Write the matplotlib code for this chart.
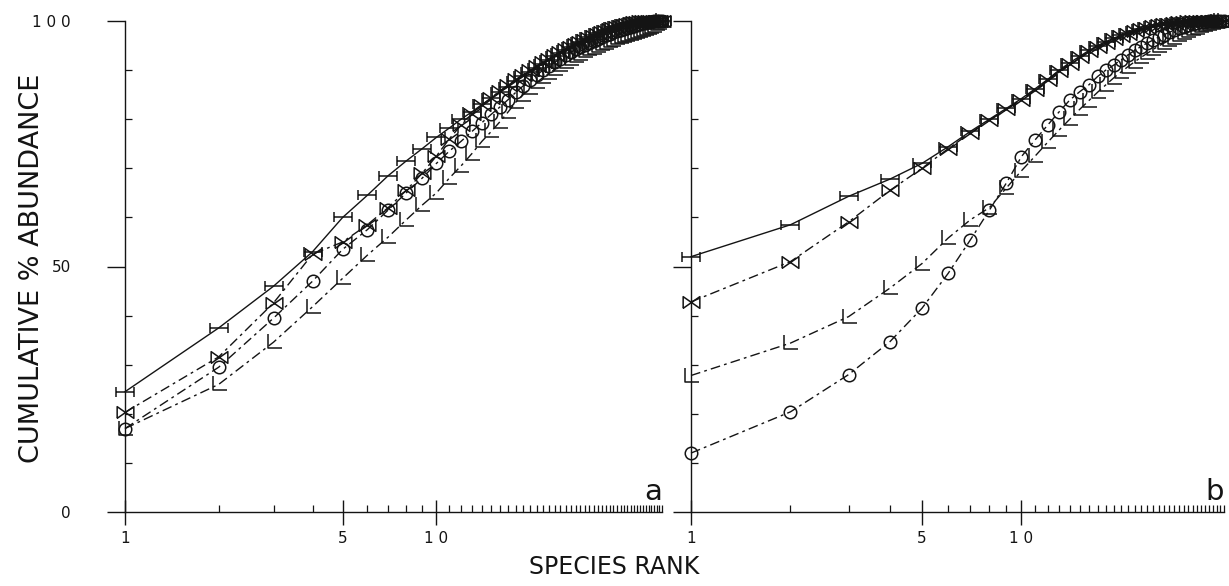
import matplotlib
matplotlib.use("Agg")
import matplotlib.pyplot as plt
from matplotlib.path import Path
from matplotlib.ticker import FixedLocator, NullFormatter

# ---------------- data ----------------
ranks_a = list(range(1, 54))
h_a = [24.5, 37.5, 46, 53, 60, 64.5, 68.5, 71.5, 74, 76.3, 78.2, 80, 81.5, 83, 84.3,
       85.5, 86.6, 87.7, 88.7, 89.6, 90.5, 91.3, 92.1, 92.8, 93.5, 94.1, 94.7, 95.3,
       95.8, 96.3, 96.7, 97.1, 97.5, 97.8, 98.1, 98.4, 98.7, 98.9, 99.1, 99.3, 99.45,
       99.6, 99.7, 99.8, 99.85, 99.9, 99.93, 99.95, 99.97, 99.98, 99.99, 100, 100]
m_a = [20.3, 31.6, 42.6, 52.5, 55, 58.5, 62, 65.5, 69, 72.5, 76, 78.8, 81, 82.8, 84.4,
       85.8, 87, 88.1, 89.1, 90, 90.8, 91.6, 92.3, 93, 93.6, 94.2, 94.8, 95.3, 95.8,
       96.2, 96.6, 97, 97.4, 97.7, 98, 98.3, 98.6, 98.8, 99, 99.2, 99.4, 99.55, 99.7,
       99.8, 99.9, 100, 100, 100, 100, 100, 100, 100, 100]
o_a = [17, 29.5, 39.5, 47, 53.5, 57.5, 61.5, 65, 68, 71, 73.5, 75.5, 77.5, 79.3, 81,
       82.5, 84, 85.5, 86.8, 88, 89, 90, 90.8, 91.6, 92.3, 93, 93.6, 94.2, 94.7, 95.2,
       95.6, 96, 96.4, 96.8, 97.1, 97.4, 97.7, 98, 98.2, 98.4, 98.6, 98.8, 99, 99.2,
       99.35, 99.5, 99.6, 99.7, 99.8, 99.9, 100, 100, 100]
l_a = [17, 26, 34.6, 41.8, 47.6, 52.3, 56, 59.5, 62.5, 65, 68, 70.5, 73, 75.5, 77.5,
       79.5, 81.5, 83.5, 85, 86.3, 87.5, 88.5, 89.4, 90.2, 91, 91.6, 92.2, 92.8, 93.3,
       93.8, 94.2, 94.6, 95, 95.3, 95.6, 95.9, 96.2, 96.5, 96.7, 97, 97.2, 97.4, 97.6,
       97.8, 98, 98.2, 98.4, 98.6, 98.8, 99, 99.3, 99.6, 100]

ranks_b = list(range(1, 42))
h_b = [52, 58.5, 64.3, 67.8, 71, 74.4, 77.5, 80, 82.2, 84.2, 86.2, 88.1, 90, 91.5,
       92.8, 94, 95, 95.8, 96.5, 97.1, 97.6, 98, 98.4, 98.7, 99, 99.2, 99.4, 99.5,
       99.6, 99.7, 99.8, 99.85, 99.9, 99.95, 100, 100, 100, 100, 100, 100, 100]
m_b = [42.8, 51, 59.1, 65.5, 70, 74, 77.2, 79.8, 82, 84, 86, 88, 89.8, 91.3, 92.6,
       93.8, 94.8, 95.6, 96.3, 96.9, 97.4, 97.9, 98.3, 98.6, 98.9, 99.1, 99.3, 99.45,
       99.6, 99.7, 99.8, 99.9, 100, 100, 100, 100, 100, 100, 100, 100, 100]
l_b = [27.8, 34.4, 39.8, 45.6, 50.6, 55.8, 59.5, 62, 66, 69.5, 72.5, 75.3, 77.8, 80,
       82, 83.8, 85.5, 87, 88.4, 89.6, 90.7, 91.7, 92.6, 93.4, 94.2, 94.9, 95.5, 96.1,
       96.6, 97.1, 97.5, 97.9, 98.3, 98.6, 98.9, 99.2, 99.4, 99.6, 99.8, 99.9, 100]
o_b = [12, 20.4, 28, 34.7, 41.5, 48.6, 55.4, 61.5, 67, 72.4, 75.8, 78.8, 81.5, 83.9,
       85.6, 87, 88.7, 90, 91, 92.1, 93.1, 94, 94.8, 95.5, 96.1, 96.7, 97.2, 97.7,
       98.1, 98.5, 98.8, 99.1, 99.3, 99.5, 99.7, 99.8, 99.9, 100, 100, 100, 100]

xmax_a = 53
xmax_b = 41
y_major = [0, 50, 100]
y_major_labels = ["0", "50", "1 0 0"]
x_major = [1, 5, 10]
x_major_labels = ["1", "5", "1 0"]

# ---------------- markers ----------------
H_MARK = Path([(-1, -0.6), (-1, 0.6), (-1, 0), (1, 0), (1, 0.6), (1, -0.6)],
              [Path.MOVETO, Path.LINETO, Path.MOVETO, Path.LINETO, Path.MOVETO, Path.LINETO])
M_MARK = Path([(-1, -0.7), (-1, 0.7), (1, -0.7), (1, 0.7), (-1, -0.7)],
              [Path.MOVETO, Path.LINETO, Path.LINETO, Path.LINETO, Path.LINETO])
L_MARK = Path([(-0.8, 1), (-0.8, -0.8), (1, -0.8)],
              [Path.MOVETO, Path.LINETO, Path.LINETO])

INK = "#141414"
DASHDOT = (0, (7, 3, 2, 3))

plt.rcParams['font.family'] = ['DejaVu Sans']

fig = plt.figure(figsize=(12.29, 5.86), dpi=100)
W, Hh = 1229, 586


def make_ax(left, right):
    return fig.add_axes([left / W, (Hh - 512) / Hh, (right - left) / W, 491 / Hh])


def style(ax, xmax, letter, ylabels):
    ax.set_xscale('log')
    ax.set_xlim(1, xmax)
    ax.set_ylim(0, 100)
    for s in ('top', 'right'):
        ax.spines[s].set_visible(False)
    for s in ('left', 'bottom'):
        ax.spines[s].set_color(INK)
        ax.spines[s].set_linewidth(1.0)
    ax.xaxis.set_major_locator(FixedLocator(x_major))
    ax.set_xticklabels(x_major_labels)
    ax.xaxis.set_minor_locator(FixedLocator(list(range(2, xmax + 1))))
    ax.xaxis.set_minor_formatter(NullFormatter())
    ax.yaxis.set_major_locator(FixedLocator(y_major))
    if ylabels:
        ax.set_yticklabels(y_major_labels)
    else:
        ax.set_yticklabels([])
    ax.yaxis.set_minor_locator(FixedLocator([v for v in range(10, 100, 10) if v != 50]))
    ax.tick_params(axis='x', which='major', direction='inout', length=18, width=1.0,
                   color=INK, labelsize=11, pad=5, labelcolor=INK)
    ax.tick_params(axis='x', which='minor', direction='in', length=5, width=0.9, color=INK)
    ax.tick_params(axis='y', which='major', direction='out', length=13, width=1.0,
                   color=INK, labelsize=11, pad=26, labelcolor=INK)
    ax.tick_params(axis='y', which='minor', direction='in', length=5, width=0.9, color=INK)
    ax.set_facecolor('none')
    ax.text(1.0, 0.012, letter, transform=ax.transAxes, ha='right', va='bottom',
            fontsize=21, color=INK)


def draw(ax, x, y, marker, ls, ms):
    ax.plot(x, y, color=INK, lw=1.0, ls=ls, marker=marker, ms=ms, mfc='none',
            mec=INK, mew=1.1, clip_on=False)


ax_a = make_ax(125, 662)
style(ax_a, xmax_a, 'a', True)
draw(ax_a, ranks_a, l_a, L_MARK, DASHDOT, 11)
draw(ax_a, ranks_a, o_a, 'o', DASHDOT, 9)
draw(ax_a, ranks_a, m_a, M_MARK, DASHDOT, 12)
draw(ax_a, ranks_a, h_a, H_MARK, '-', 13)

ax_b = make_ax(691, 1224)
style(ax_b, xmax_b, 'b', False)
draw(ax_b, ranks_b, l_b, L_MARK, DASHDOT, 11)
draw(ax_b, ranks_b, o_b, 'o', DASHDOT, 9)
draw(ax_b, ranks_b, m_b, M_MARK, DASHDOT, 12)
draw(ax_b, ranks_b, h_b, H_MARK, '-', 13)

fig.text(32 / W, (Hh - 268) / Hh, "CUMULATIVE % ABUNDANCE", rotation=90,
         ha='center', va='center', fontsize=19.5, color=INK)
fig.text(614 / W, (Hh - 567) / Hh, "SPECIES RANK", ha='center', va='center',
         fontsize=17, color=INK)

fig.savefig("out.png", dpi=100)
